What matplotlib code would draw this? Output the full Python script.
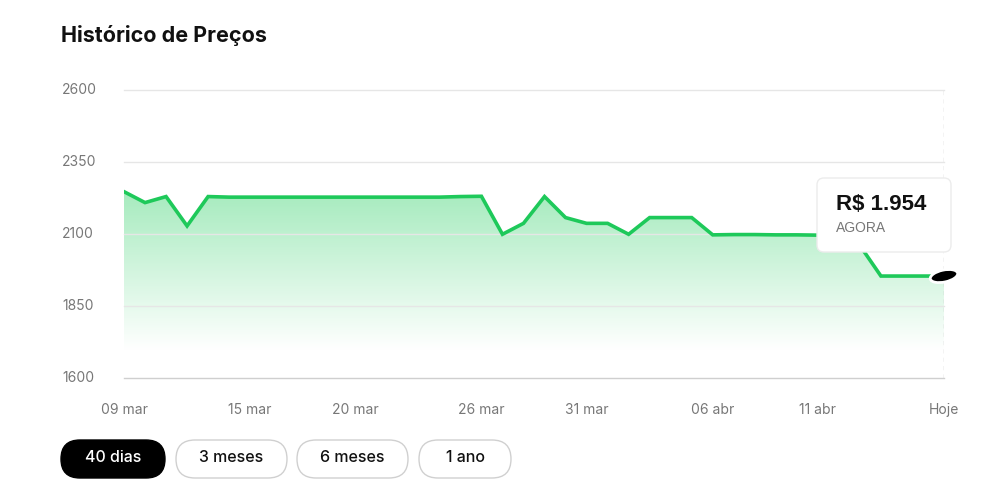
import matplotlib.pyplot as plt
import numpy as np
from matplotlib.patches import FancyBboxPatch, Ellipse, Polygon
from matplotlib.colors import LinearSegmentedColormap

# price history, one value per day from 09 mar to 17 abr (Hoje)
prices = [2247, 2209, 2230, 2128, 2230,
          2228, 2228, 2228, 2228, 2228, 2228, 2228, 2228, 2228, 2228, 2228,
          2230, 2231, 2099, 2137, 2230, 2157, 2137, 2137, 2099,
          2157, 2157, 2157, 2097, 2098, 2098, 2097, 2097, 2096, 2096,
          2060, 1954, 1954, 1954, 1954]
tick_days = [0, 6, 11, 17, 22, 28, 33, 39]
tick_labels = ['09 mar', '15 mar', '20 mar', '26 mar', '31 mar', '06 abr', '11 abr', 'Hoje']
y_ticks = [1600, 1850, 2100, 2350, 2600]
buttons = ['40 dias', '3 meses', '6 meses', '1 ano']
current_price = 'R$ 1.954'

GREEN = '#1ec95a'
W, H = 984, 503

plt.rcParams['font.family'] = ['Inter', 'DejaVu Sans']

fig = plt.figure(figsize=(W / 100, H / 100), dpi=100)
fig.patch.set_facecolor('white')

def px(x0, y0, x1, y1):
    # pixel box -> figure fraction [left, bottom, width, height]
    return [x0 / W, 1 - y1 / H, (x1 - x0) / W, (y1 - y0) / H]

ax = fig.add_axes(px(124, 90, 944, 378))
days = np.arange(len(prices))
ax.set_xlim(0, len(prices) - 1)
ax.set_ylim(1600, 2600)

# gradient fill under line, fading to white towards the bottom
grad = LinearSegmentedColormap.from_list('g', [(0, '#ffffff'), (0.15, '#ffffff'), (1, '#a6ebbe')])
img = ax.imshow(np.linspace(0, 1, 256).reshape(-1, 1), cmap=grad, aspect='auto',
                extent=[0, len(prices) - 1, 1600, max(prices)], origin='lower', zorder=1)
poly = Polygon(np.column_stack([np.r_[days, days[-1], 0], np.r_[prices, 1600, 1600]]),
               closed=True, facecolor='none', edgecolor='none')
ax.add_patch(poly)
img.set_clip_path(poly)

ax.plot(days, prices, color=GREEN, lw=2.6, solid_joinstyle='miter', zorder=3)

for yv in y_ticks:
    ax.axhline(yv, color='#e6e6e6' if yv > 1600 else '#cfcfcf', lw=1, zorder=2, clip_on=False)
ax.axvline(days[-1], color='#c4c4c4', lw=1, ls=(0, (3, 3)), zorder=2)

for s in ax.spines.values():
    s.set_visible(False)
ax.set_xticks([])
ax.set_yticks([])

fig.canvas.draw()
for yv in y_ticks:
    yp = ax.transData.transform((0, yv))[1]
    fig.text(62 / W, yp / H, str(yv), fontsize=10, color='#777777', va='center', ha='left')
for d, lab in zip(tick_days, tick_labels):
    xp = ax.transData.transform((d, 1600))[0]
    fig.text(xp / W, 1 - 410 / H, lab, fontsize=10, color='#777777', va='center', ha='center')

fig.text(61 / W, 1 - 36 / H, 'Histórico de Preços', fontsize=15.5, fontweight='bold',
         color='#111111', va='center', ha='left')

# overlay in pixel coordinates for tooltip, marker and buttons
xe, ye = ax.transData.transform((days[-1], prices[-1]))
ov = fig.add_axes([0, 0, 1, 1], facecolor='none')
ov.set_xlim(0, W)
ov.set_ylim(H, 0)
ov.axis('off')
ov.add_patch(Ellipse((xe, H - ye), 28, 12, angle=-12, facecolor='black',
                     edgecolor='white', lw=2, zorder=5))

# tooltip
ov.add_patch(FancyBboxPatch((819, 180), 132, 72, boxstyle='round,pad=0,rounding_size=7',
                            facecolor='#000000', alpha=0.05, edgecolor='none', zorder=5))
ov.add_patch(FancyBboxPatch((817, 178), 134, 74, boxstyle='round,pad=0,rounding_size=7',
                            facecolor='white', edgecolor='#ececec', lw=1, zorder=6))
ov.text(836, 205, current_price, fontsize=16, fontweight='bold', color='#111111',
        family=['Liberation Sans', 'DejaVu Sans'], va='center', ha='left', zorder=7)
ov.text(836, 228, 'AGORA', fontsize=10, color='#777777',
        family=['Liberation Sans', 'DejaVu Sans'], va='center', ha='left', zorder=7)

# period buttons
btn_x = [(61, 165), (176, 287), (297, 408), (419, 511)]
for i, (label, (x0, x1)) in enumerate(zip(buttons, btn_x)):
    active = i == 0
    ov.add_patch(FancyBboxPatch((x0, 440), x1 - x0, 38, boxstyle='round,pad=0,rounding_size=19',
                                facecolor='black' if active else 'white',
                                edgecolor='black' if active else '#d0d0d0', lw=1, zorder=5))
    ov.text((x0 + x1) / 2, 458, label, fontsize=11.5, color='white' if active else '#111111',
            fontweight='medium', va='center', ha='center', zorder=6)

fig.savefig('out.png', dpi=100)
